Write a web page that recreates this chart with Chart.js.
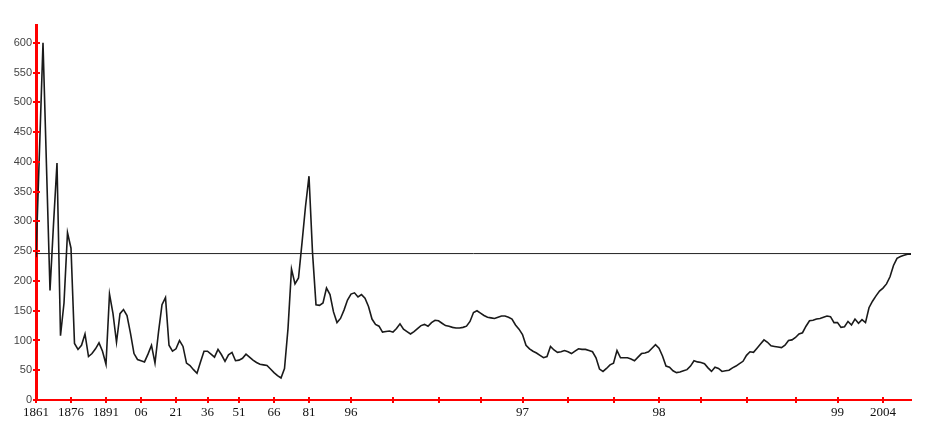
<!DOCTYPE html>
<html>
<head>
<meta charset="utf-8">
<script src="https://cdn.jsdelivr.net/npm/chart.js@4/dist/chart.umd.min.js"></script>
<style>
  html, body { margin: 0; padding: 0; background: #fff; }
  #wrap { width: 930px; height: 441px; }
</style>
</head>
<body>
<div id="wrap"><canvas id="chart"></canvas></div>
<script>
// one value per sample along the x axis
const values = [
  240, 420, 600, 392, 184, 295, 398, 108, 163, 281,
  255,  95,  85,  92, 111,  73,  78,  86,  96,  82,
   60, 178, 145,  97, 145, 152, 142, 112,  78,  68,
   66,  64,  77,  92,  62, 114, 160, 172,  92,  82,
   86, 100,  90,  62,  58,  51,  45,  64,  82,  82,
   77,  72,  85,  76,  65,  76,  80,  66,  67,  70,
   77,  72,  67,  63,  60,  59,  58,  52,  46,  41,
   37,  53, 120, 220, 195, 205, 264, 325, 376, 248,
  160, 159, 163, 188, 177, 148, 130, 137, 151, 168,
  178, 180, 173, 177, 171, 157, 136, 127, 124, 114,
  115, 116, 114, 120, 128, 119, 115, 111, 115, 120,
  125, 127, 124, 130, 134, 133, 129, 125, 124, 122,
  121, 121, 122, 124, 132, 147, 150, 146, 142, 139,
  138, 137, 139, 141, 141, 139, 136, 126, 119, 110,
   92,  86,  82,  79,  75,  71,  73,  90,  84,  80,
   81,  83,  81,  78,  82,  86,  85,  85,  83,  81,
   71,  52,  48,  53,  59,  62,  83,  71,  71,  71,
   69,  66,  72,  78,  79,  81,  87,  93,  87,  74,
   57,  55,  49,  46,  47,  49,  51,  57,  66,  64,
   63,  61,  54,  48,  55,  53,  48,  49,  50,  54,
   57,  61,  65,  75,  81,  80,  87,  94, 101,  97,
   91,  90,  89,  88,  92, 100, 101, 105, 111, 113,
  124, 133, 134, 136, 137, 139, 141, 140, 130, 130,
  122, 123, 132, 126, 136, 129, 135, 130, 155, 166,
  175, 183, 188, 195, 207, 226, 238, 241, 243, 245,
  245
];

// sample index of each x tick and its label
const xTickIndex = [0, 10, 20, 30, 40, 49, 58, 68, 78, 90, 102, 115, 127, 139, 152, 165, 178, 190, 203, 217, 229, 242];
const xTickLabels = ['1861', '1876', '1891', '06', '21', '36', '51', '66', '81', '96', '', '', '', '97', '', '', '98', '', '', '', '99', '2004'];

const yTicks = [0, 50, 100, 150, 200, 250, 300, 350, 400, 450, 500, 550, 600];
const refLevel = 246;

const lastIndex = values.length - 1;

// short red ticks crossing both axes
const crossTicks = {
  id: 'crossTicks',
  afterDatasetsDraw(chart) {
    const ctx = chart.ctx;
    const x = chart.scales.x;
    const y = chart.scales.y;
    ctx.save();
    ctx.strokeStyle = '#ff0000';
    ctx.lineWidth = 2;
    y.ticks.forEach(t => {
      const py = Math.round(y.getPixelForValue(t.value));
      ctx.beginPath();
      ctx.moveTo(y.right - 3, py);
      ctx.lineTo(y.right + 4, py);
      ctx.stroke();
    });
    x.ticks.forEach(t => {
      const px = Math.round(x.getPixelForValue(t.value));
      ctx.beginPath();
      ctx.moveTo(px, x.top - 3);
      ctx.lineTo(px, x.top + 3);
      ctx.stroke();
    });
    ctx.restore();
  }
};

new Chart(document.getElementById('chart'), {
  type: 'line',
  data: {
    datasets: [
      {
        data: values.map((v, i) => ({x: i, y: v})),
        borderColor: '#1a1a1a',
        borderWidth: 1.6,
        pointRadius: 0,
        tension: 0
      },
      {
        data: [{x: 0, y: refLevel}, {x: lastIndex, y: refLevel}],
        borderColor: '#222',
        borderWidth: 1,
        pointRadius: 0
      }
    ]
  },
  options: {
    responsive: true,
    maintainAspectRatio: false,
    animation: false,
    layout: { padding: {left: 0, right: 19, top: 25, bottom: 0} },
    plugins: {
      legend: { display: false },
      tooltip: { enabled: false }
    },
    scales: {
      x: {
        type: 'linear',
        min: 0,
        max: lastIndex,
        afterBuildTicks: scale => { scale.ticks = xTickIndex.map(v => ({value: v})); },
        afterFit: scale => { scale.height = 41; },
        grid: { display: false, drawTicks: false },
        border: { display: true, color: '#ff0000', width: 2 },
        ticks: {
          autoSkip: false,
          maxRotation: 0,
          padding: 5,
          color: '#111',
          font: { family: 'Liberation Serif', size: 13 },
          callback: (value, index) => xTickLabels[index]
        }
      },
      y: {
        min: 0,
        max: 630,
        afterBuildTicks: scale => { scale.ticks = yTicks.map(v => ({value: v})); },
        afterFit: scale => { scale.width = 36; },
        grid: { display: false, drawTicks: false },
        border: { display: true, color: '#ff0000', width: 3 },
        ticks: {
          padding: 4,
          color: '#444',
          font: { family: 'Liberation Sans', size: 11 }
        }
      }
    }
  },
  plugins: [crossTicks]
});
</script>
</body>
</html>
